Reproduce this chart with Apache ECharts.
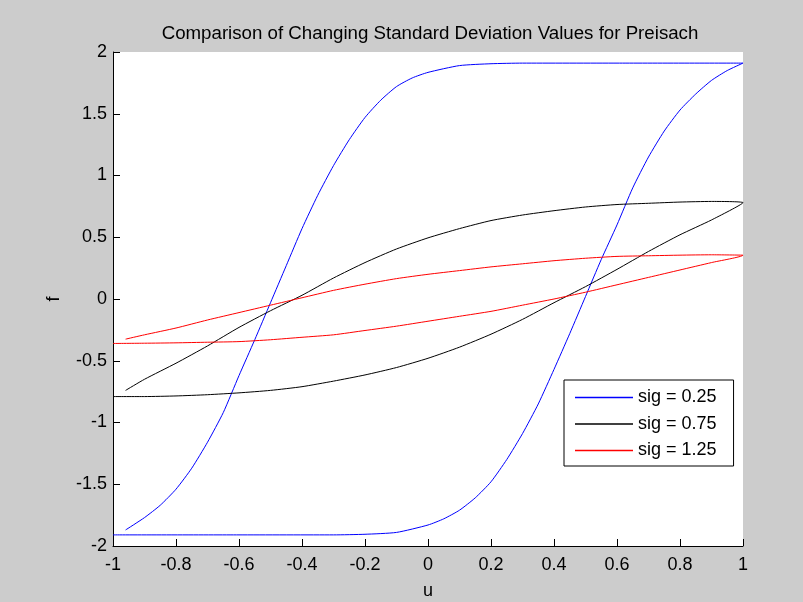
<!DOCTYPE html>
<html lang="en">
<head>
    <meta charset="UTF-8">
    <title>Preisach</title>
    <style>
        html, body { margin: 0; padding: 0; background: #cccccc; }
        #main { width: 803px; height: 602px; }
    </style>
</head>
<body>
<div id="main"></div>
<script src="https://cdn.jsdelivr.net/npm/echarts@6/dist/echarts.min.js"></script>
<script>
    // sig = 0.25, ascending then descending branch
    var blueUpU = [-1, -0.6, -0.3, -0.2, -0.1, 0, 0.05, 0.1, 0.15, 0.2, 0.25, 0.3, 0.35, 0.4, 0.45, 0.5, 0.55, 0.6, 0.65, 0.7, 0.75, 0.8, 0.85, 0.9, 0.95, 1];
    var blueUpF = [-1.91, -1.91, -1.91, -1.905, -1.89, -1.83, -1.78, -1.71, -1.61, -1.48, -1.30, -1.09, -0.85, -0.57, -0.28, 0.02, 0.32, 0.60, 0.90, 1.15, 1.36, 1.53, 1.66, 1.77, 1.85, 1.91];
    var blueDownU = [1, 0.6, 0.3, 0.2, 0.1, 0, -0.05, -0.1, -0.15, -0.2, -0.25, -0.3, -0.35, -0.4, -0.45, -0.5, -0.55, -0.6, -0.65, -0.7, -0.75, -0.8, -0.85, -0.9, -0.96];
    var blueDownF = [1.91, 1.91, 1.91, 1.905, 1.89, 1.835, 1.79, 1.72, 1.61, 1.47, 1.29, 1.08, 0.84, 0.57, 0.27, -0.03, -0.33, -0.62, -0.92, -1.16, -1.37, -1.54, -1.67, -1.77, -1.87];

    // sig = 0.75 and sig = 1.25 share the same u samples
    var upU = [-1, -0.9, -0.8, -0.7, -0.6, -0.5, -0.4, -0.3, -0.2, -0.1, 0, 0.1, 0.2, 0.3, 0.4, 0.5, 0.6, 0.7, 0.8, 0.9, 1];
    var downU = [1, 0.9, 0.8, 0.7, 0.6, 0.5, 0.4, 0.3, 0.2, 0.1, 0, -0.1, -0.2, -0.3, -0.4, -0.5, -0.6, -0.7, -0.8, -0.9, -0.96];
    var blackUpF = [-0.79, -0.79, -0.785, -0.775, -0.76, -0.74, -0.71, -0.665, -0.615, -0.555, -0.48, -0.39, -0.285, -0.165, -0.03, 0.10, 0.24, 0.385, 0.52, 0.64, 0.78];
    var blackDownF = [0.78, 0.79, 0.785, 0.775, 0.765, 0.745, 0.715, 0.68, 0.635, 0.57, 0.495, 0.405, 0.295, 0.17, 0.03, -0.095, -0.23, -0.38, -0.52, -0.65, -0.74];
    var redUpF = [-0.36, -0.358, -0.355, -0.35, -0.345, -0.33, -0.31, -0.29, -0.255, -0.22, -0.18, -0.14, -0.10, -0.05, 0.0, 0.055, 0.115, 0.175, 0.235, 0.295, 0.355];
    var redDownF = [0.36, 0.358, 0.355, 0.35, 0.345, 0.33, 0.31, 0.285, 0.26, 0.23, 0.20, 0.165, 0.12, 0.07, 0.01, -0.05, -0.11, -0.17, -0.235, -0.29, -0.325];

    var names = ['sig = 0.25', 'sig = 0.75', 'sig = 1.25'];
    var colors = ['#0000ff', '#000000', '#ff0000'];

    function loop(u1, f1, u2, f2) {
        var pts = [];
        for (var i = 0; i < u1.length; i++) pts.push([u1[i], f1[i]]);
        for (var j = 0; j < u2.length; j++) pts.push([u2[j], f2[j]]);
        return pts;
    }

    var loops = [
        loop(blueUpU, blueUpF, blueDownU, blueDownF),
        loop(upU, blackUpF, downU, blackDownF),
        loop(upU, redUpF, downU, redDownF)
    ];

    var font = 'Arial, "Liberation Sans", sans-serif';
    var myChart = echarts.init(document.getElementById('main'));

    var axisCommon = {
        type: 'value',
        nameLocation: 'middle',
        nameTextStyle: { color: '#000', fontSize: 18, fontFamily: font },
        axisLine: { show: true, onZero: false, lineStyle: { color: '#000', width: 1 } },
        axisTick: { show: true, inside: true, length: 7, lineStyle: { color: '#000' } },
        splitLine: { show: false },
        axisLabel: { color: '#000', fontSize: 18, fontFamily: font }
    };

    var option = {
        backgroundColor: '#cccccc',
        animation: false,
        title: {
            text: 'Comparison of Changing Standard Deviation Values for Preisach',
            left: 425,
            top: 19,
            textAlign: 'center',
            textStyle: { color: '#000', fontSize: 18.7, fontWeight: 'normal', fontFamily: font }
        },
        legend: {
            data: names,
            orient: 'vertical',
            left: 564,
            top: 380,
            padding: [7, 17, 5, 11],
            itemGap: 5.5,
            itemWidth: 58,
            itemHeight: 1.5,
            icon: 'rect',
            backgroundColor: '#ffffff',
            borderColor: '#000',
            borderWidth: 1,
            borderRadius: 0,
            textStyle: { color: '#000', fontSize: 18, fontFamily: font, lineHeight: 21 }
        },
        grid: {
            left: 113, right: 60, top: 52, bottom: 56,
            outerBoundsMode: 'none',
            show: true, backgroundColor: '#ffffff', borderWidth: 0
        },
        xAxis: Object.assign({}, axisCommon, {
            name: 'u',
            nameGap: 36,
            min: -1, max: 1, interval: 0.2,
            axisLabel: Object.assign({}, axisCommon.axisLabel, {
                margin: 10,
                formatter: function (v) { return String(+v.toFixed(1)); }
            })
        }),
        yAxis: Object.assign({}, axisCommon, {
            name: 'f',
            nameGap: 50,
            min: -2, max: 2, interval: 0.5,
            axisLabel: Object.assign({}, axisCommon.axisLabel, {
                margin: 6,
                formatter: function (v) { return String(+v.toFixed(1)); }
            })
        }),
        series: names.map(function (n, k) {
            return {
                name: n,
                type: 'line',
                data: loops[k],
                showSymbol: false,
                symbol: 'none',
                smooth: 0.2,
                lineStyle: { color: colors[k], width: 1 },
                itemStyle: { color: colors[k] }
            };
        })
    };

    myChart.setOption(option);
</script>
</body>
</html>
